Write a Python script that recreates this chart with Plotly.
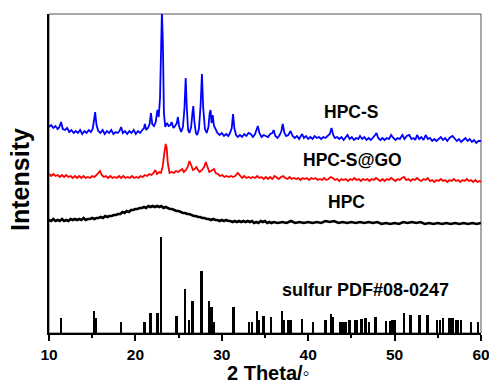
import plotly.graph_objects as go

# ---- data (intensity in arbitrary units, curves offset as in the figure) ----
hpcs_x = [10.0,10.25,10.5,10.75,11.0,11.2,11.4,11.6,11.85,12.1,12.35,12.6,12.85,13.1,13.35,13.6,13.85,14.1,14.35,14.6,14.85,15.05,15.2,15.34,15.5,15.7,15.95,16.2,16.45,16.7,16.95,17.2,17.45,17.7,17.95,18.15,18.35,18.55,18.8,19.05,19.3,19.55,19.8,20.05,20.3,20.55,20.8,21.0,21.1,21.25,21.45,21.65,21.8,21.95,22.15,22.35,22.55,22.7,22.85,22.98,23.07,23.18,23.3,23.45,23.65,23.85,24.05,24.2,24.4,24.6,24.8,24.92,25.05,25.3,25.5,25.68,25.82,25.95,26.1,26.25,26.45,26.6,26.7,26.82,27.0,27.15,27.35,27.55,27.7,27.85,28.05,28.25,28.45,28.6,28.7,28.82,28.95,29.1,29.3,29.5,29.75,30.0,30.25,30.5,30.75,30.95,31.15,31.3,31.45,31.65,31.85,32.1,32.35,32.6,32.85,33.1,33.35,33.6,33.85,34.0,34.17,34.35,34.6,34.85,35.1,35.35,35.6,35.85,36.0,36.2,36.45,36.7,36.9,37.05,37.25,37.45,37.7,37.96,38.2,38.45,38.7,38.95,39.15,39.3,39.5,39.75,40.0,40.25,40.5,40.75,41.0,41.25,41.5,41.75,42.0,42.25,42.5,42.7,42.9,43.1,43.35,43.6,43.85,44.1,44.35,44.55,44.8,45.05,45.3,45.55,45.8,46.0,46.25,46.5,46.75,47.0,47.25,47.5,47.75,47.9,48.1,48.35,48.6,48.85,49.1,49.35,49.6,49.85,50.1,50.35,50.6,50.9,51.15,51.4,51.7,51.95,52.2,52.4,52.6,52.85,53.1,53.35,53.6,53.85,54.1,54.35,54.6,54.85,55.1,55.35,55.6,55.85,56.1,56.35,56.7,56.95,57.2,57.45,57.7,57.95,58.2,58.45,58.7,58.95,59.2,59.45,59.7,60.0]
hpcs_y = [206,208,205,207,204,206,211,204,203,205,201,203,200,202,200,203,199,202,200,203,201,204,212,221,208,202,200,203,199,202,200,203,199,201,200,202,206,200,202,199,202,200,203,199,202,200,203,205,209,203,205,209,220,209,207,211,223,216,235,300,322,290,220,206,210,207,208,211,205,207,210,216,207,201,206,225,255,225,203,200,206,220,227,212,200,198,204,228,259,225,204,200,206,220,223,210,218,207,203,200,198,200,197,199,197,200,205,219,205,198,196,198,196,199,197,200,199,196,199,202,207,200,196,198,197,196,199,200,203,197,195,198,202,209,200,197,198,202,197,195,197,194,197,199,195,197,194,196,194,197,195,196,194,196,195,197,199,205,198,195,196,194,196,193,196,198,194,196,193,195,194,197,194,196,193,195,193,195,198,200,195,193,195,193,195,194,198,195,193,195,194,198,194,197,198,194,195,193,198,194,196,193,198,194,195,192,194,192,194,196,193,195,192,195,197,194,192,194,191,193,195,192,194,191,193,190,192,192]

hpcsgo_x = [10.0,10.25,10.5,10.75,11.0,11.25,11.5,11.75,12.0,12.25,12.5,12.75,13.0,13.25,13.5,13.75,14.0,14.25,14.5,14.75,15.0,15.25,15.5,15.75,15.9,16.1,16.35,16.6,16.85,17.1,17.35,17.6,17.85,18.1,18.35,18.6,18.85,19.1,19.35,19.6,19.85,20.1,20.35,20.6,20.85,21.1,21.35,21.6,21.85,22.1,22.3,22.5,22.75,22.95,23.15,23.35,23.5,23.62,23.75,23.95,24.2,24.45,24.7,24.95,25.2,25.4,25.6,25.85,26.05,26.25,26.45,26.65,26.85,27.05,27.25,27.45,27.7,27.95,28.15,28.35,28.55,28.75,28.95,29.1,29.3,29.55,29.8,30.05,30.3,30.55,30.8,31.05,31.3,31.55,31.85,32.1,32.35,32.6,32.85,33.1,33.35,33.6,33.85,34.1,34.35,34.6,34.85,35.1,35.35,35.6,35.85,36.1,36.35,36.6,36.85,37.1,37.35,37.6,37.85,38.1,38.35,38.6,38.85,39.1,39.35,39.6,39.85,40.1,40.35,40.6,40.85,41.1,41.35,41.6,41.85,42.1,42.35,42.6,42.85,43.1,43.35,43.6,43.85,44.1,44.35,44.6,44.85,45.1,45.35,45.6,45.85,46.1,46.35,46.6,46.85,47.1,47.35,47.6,47.85,48.1,48.35,48.6,48.85,49.1,49.35,49.6,49.85,50.1,50.35,50.6,50.85,51.1,51.35,51.6,51.85,52.1,52.35,52.6,52.85,53.1,53.35,53.6,53.85,54.1,54.35,54.6,54.85,55.1,55.35,55.6,55.85,56.1,56.35,56.6,56.85,57.1,57.35,57.6,57.85,58.1,58.35,58.6,58.85,59.1,59.35,59.6,59.85,60.0]
hpcsgo_y = [159,157,159,157,158,156,158,156,158,156,157,155,157,155,157,155,157,155,156,155,157,156,158,160,162,158,156,157,155,157,155,156,155,157,155,157,155,156,155,157,155,156,155,157,156,158,157,159,158,160,163,159,161,160,166,180,189,185,170,160,161,160,162,161,163,164,161,163,166,172,168,163,164,166,163,161,163,166,171,166,161,162,163,164,160,159,157,158,156,157,156,157,156,157,160,157,155,157,155,156,155,156,155,157,155,156,154,156,154,156,154,157,155,154,156,157,155,154,156,154,155,154,155,153,155,154,155,153,155,154,155,153,154,153,155,153,154,156,155,153,154,152,154,153,154,152,154,153,155,153,154,152,154,153,154,152,154,153,155,153,152,154,152,154,153,155,153,152,154,153,155,156,153,154,152,154,153,155,153,152,154,153,155,152,153,151,153,152,154,152,153,151,153,152,154,152,153,151,153,152,154,152,153,151,153,151,152,151]

hpc_x = [10.0,10.25,10.5,10.75,11.0,11.25,11.5,11.75,12.0,12.25,12.5,12.75,13.0,13.25,13.5,13.75,14.0,14.25,14.5,14.75,15.0,15.25,15.5,15.75,16.0,16.25,16.5,16.75,17.0,17.25,17.5,17.75,18.0,18.25,18.5,18.75,19.0,19.25,19.5,19.75,20.0,20.25,20.5,20.75,21.0,21.25,21.5,21.75,22.0,22.25,22.5,22.75,23.0,23.25,23.5,23.75,24.0,24.25,24.5,24.75,25.0,25.25,25.5,25.75,26.0,26.25,26.5,26.75,27.0,27.25,27.5,27.75,28.0,28.25,28.5,28.75,29.0,29.25,29.5,29.75,30.0,30.25,30.5,30.75,31.0,31.25,31.5,31.75,32.0,32.25,32.5,32.75,33.0,33.25,33.5,33.75,34.0,34.25,34.5,34.75,35.0,35.25,35.5,35.75,36.0,36.5,37.0,37.5,38.0,38.5,39.0,39.5,40.0,40.5,41.0,41.5,42.0,42.5,43.0,43.5,44.0,44.5,45.0,45.5,46.0,46.5,47.0,47.5,48.0,48.5,49.0,49.5,50.0,50.5,51.0,51.5,52.0,52.5,53.0,53.5,54.0,54.5,55.0,55.5,56.0,56.5,57.0,57.5,58.0,58.5,59.0,59.5,60.0]
hpc_y = [113,112,114,112,113,112,114,112,113,112,114,113,114,113,114,113,115,113,114,114,115,114,115,115,116,115,117,116,117,117,118,118,119,119,121,120,122,121,123,123,124,124,125,125,126,125,127,126,127,126,127,126,127,125,126,125,124,124,123,122,122,121,120,120,119,119,118,117,117,116,116,115,115,114,114,113,114,113,113,112,113,112,113,112,112,111,112,111,112,111,112,111,112,111,112,110,111,110,112,111,112,110,111,110,111,110,111,110,112,110,111,110,111,110,111,110,112,111,112,110,111,110,111,110,111,110,111,110,111,109,110,109,110,109,111,110,111,110,111,109,110,109,110,109,110,109,110,109,110,109,110,109,110]

pdf_x = [11.39,15.22,15.45,18.35,21.06,21.76,22.6,22.96,24.79,25.76,26.22,26.65,27.69,28.58,28.83,29.08,31.36,33.2,33.5,34.12,34.28,34.85,35.75,37.01,37.25,37.77,37.96,39.3,40.6,42.02,42.69,42.89,43.76,44.07,44.34,44.82,45.45,45.69,46.2,46.66,47.04,47.82,49.05,49.5,49.76,50.02,51.1,51.88,52.9,53.85,54.95,55.3,55.6,56.4,56.75,57.2,57.4,57.68,58.9,59.7]
pdf_h = [15,22,15,11,11,20,20,96,17,44,13,32,62,32,26,11,26,11,11,22,13,17,16,22,13,13,13,14,11,13,19,16,11,11,11,13,13,13,14,15,11,16,12,12,13,13,20,18,18,18,13,13,15,15,15,13,13,13,11,11]

labels = ["HPC-S", "HPC-S@GO", "HPC", "sulfur PDF#08-0247"]
label_x = [44.9, 45.15, 44.4, 46.66]
label_y = [221, 173, 131.5, 43]

FONT = "Liberation Sans, Arial, sans-serif"

fig = go.Figure()
fig.add_trace(go.Bar(x=pdf_x, y=pdf_h, width=0.22, marker=dict(color="black", line=dict(width=0)),
                     showlegend=False))
fig.add_trace(go.Scatter(x=hpc_x, y=hpc_y, mode="lines", line=dict(color="black", width=2.6),
                         showlegend=False))
fig.add_trace(go.Scatter(x=hpcsgo_x, y=hpcsgo_y, mode="lines", line=dict(color="#ff0000", width=1.8),
                         showlegend=False))
fig.add_trace(go.Scatter(x=hpcs_x, y=hpcs_y, mode="lines", line=dict(color="#0000ff", width=1.8),
                         showlegend=False))

for t, x, y in zip(labels, label_x, label_y):
    fig.add_annotation(x=x, y=y, text=t, showarrow=False, xanchor="center", yanchor="middle",
                       font=dict(family=FONT, size=18 if t.startswith("sulfur") else 17.5,
                                 color="black", weight="bold"))

# axis titles placed like the reference
fig.add_annotation(xref="paper", yref="paper", x=-0.067, y=0.48, text="Intensity", textangle=-90,
                   showarrow=False, xanchor="center", yanchor="middle",
                   font=dict(family=FONT, size=25, color="black", weight="bold"))
fig.add_annotation(xref="paper", yref="paper", x=0.508, y=-0.125, text="2 Theta/\u25e6",
                   showarrow=False, xanchor="center", yanchor="middle", borderpad=0,
                   font=dict(family=FONT, size=20, color="black", weight="bold"))

# gray frame (top/right)
fig.add_shape(type="rect", xref="paper", yref="paper", x0=0, y0=0, x1=1, y1=1,
              line=dict(color="#555555", width=1), layer="below")

fig.update_layout(
    width=489, height=383,
    margin=dict(l=49, r=8, t=14, b=50, autoexpand=False),
    paper_bgcolor="white", plot_bgcolor="white",
    bargap=0,
    xaxis=dict(range=[10, 60], tickvals=[10, 20, 30, 40, 50, 60], ticks="outside", ticklen=6,
               tickwidth=1.5, tickcolor="black", showline=True, linecolor="black", linewidth=2,
               showgrid=False, zeroline=False, automargin=False, ticklabeloverflow="allow",
               minor=dict(ticks="outside", ticklen=3, tickwidth=1.5, tickcolor="black", dtick=5,
                          tick0=10, showgrid=False),
               tickfont=dict(family=FONT, size=15.5, color="black", weight="bold")),
    yaxis=dict(range=[0, 319], showticklabels=False, ticks="", showline=True, linecolor="black",
               linewidth=2, showgrid=False, zeroline=False, automargin=False),
)

fig.write_html("out.html", config={"displayModeBar": False},
               post_script="document.body.style.margin='0';document.body.style.overflow='hidden';")
